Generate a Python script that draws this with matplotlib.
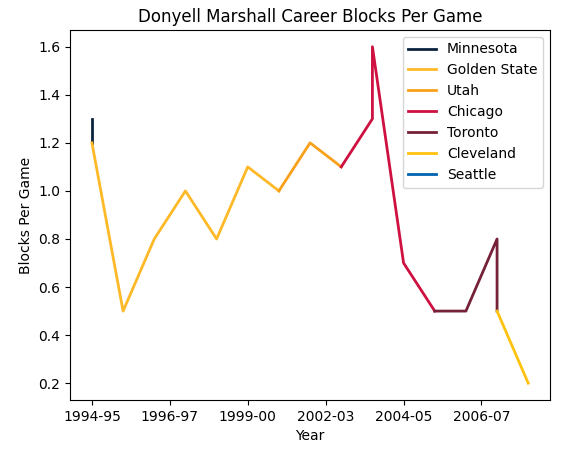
import matplotlib
matplotlib.use("Agg")
import matplotlib.pyplot as plt

teams = ["Minnesota", "Golden State", "Utah", "Chicago", "Toronto", "Cleveland", "Seattle"]
colors = ["#0C2340", "#FDB927", "#F9A01B", "#CE1141", "#752138", "#FFC20E", "#0064B1"]
xs = [[0, 0], [0, 1, 2, 3, 4, 5, 6], [6, 7, 8], [8, 9, 9, 10, 11], [11, 12, 13, 13], [13, 14], [14]]
ys = [[1.3, 1.2], [1.2, 0.5, 0.8, 1.0, 0.8, 1.1, 1.0], [1.0, 1.2, 1.1], [1.1, 1.3, 1.6, 0.7, 0.5],
      [0.5, 0.5, 0.8, 0.5], [0.5, 0.2], [0.2]]
tick_pos = [0, 2.5, 5, 7.5, 10, 12.5]
tick_labels = ["1994-95", "1996-97", "1999-00", "2002-03", "2004-05", "2006-07"]

fig, ax = plt.subplots(figsize=(5.7, 4.53), dpi=100)
for t, c, x, y in zip(teams, colors, xs, ys):
    ax.plot(x, y, color=c, lw=2, label=t)
ax.set_xticks(tick_pos)
ax.set_xticklabels(tick_labels)
ax.set_xlabel("Year")
ax.set_ylabel("Blocks Per Game")
ax.set_title("Donyell Marshall Career Blocks Per Game")
ax.legend(loc="upper right")
fig.subplots_adjust(left=0.123, right=0.965, bottom=0.117, top=0.934)
fig.savefig("out.png")
